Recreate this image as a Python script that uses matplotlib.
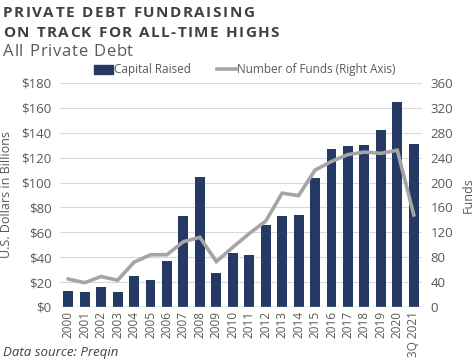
import matplotlib
matplotlib.use("Agg")
import matplotlib.pyplot as plt
from matplotlib.patches import Patch
from matplotlib.lines import Line2D
from matplotlib.font_manager import FontProperties

years = ["2000", "2001", "2002", "2003", "2004", "2005", "2006", "2007", "2008", "2009",
         "2010", "2011", "2012", "2013", "2014", "2015", "2016", "2017", "2018", "2019",
         "2020", "3Q 2021"]
capital_raised = [13, 12, 16, 12, 25, 22, 37, 73, 104.5, 27, 43, 41.5, 66, 73, 74, 104,
                  127, 129, 130.5, 142, 165, 131]
num_funds = [45, 39, 49, 43, 72, 84, 84, 105, 112, 73, 96, 118, 138, 183, 179, 220,
             234, 245, 249, 247, 252, 148]

NAVY = "#243a64"
GRAY_LINE = "#a5a5a5"
TXT = "#595959"
TITLE = "#404040"
FONT = "Open Sans"

plt.rcParams["font.family"] = [FONT, "DejaVu Sans"]

fig = plt.figure(figsize=(4.75, 3.64), dpi=100)
W, H = 475, 364
ax = fig.add_axes([60 / W, 1 - 307 / H, (422 - 60) / W, (307 - 83) / H])
ax2 = ax.twinx()

x = list(range(len(years)))
ax.bar(x, capital_raised, width=0.6, color=NAVY, zorder=3)
ax2.plot(x, num_funds, color=GRAY_LINE, lw=2.6, zorder=4, solid_joinstyle="miter")

ax.set_ylim(0, 180)
ax.set_yticks(range(0, 181, 20))
ax.set_yticklabels([f"${v}" for v in range(0, 181, 20)])
ax2.set_ylim(0, 360)
ax2.set_yticks(range(0, 361, 40))
ax.set_xlim(-0.5, len(years) - 0.5)
ax.set_xticks(x)
ax.set_xticklabels(years, rotation=90)

ax.grid(axis="y", color="#d9d9d9", lw=0.8, zorder=0)
ax.set_axisbelow(True)
for a in (ax, ax2):
    for s in ("top", "left", "right", "bottom"):
        a.spines[s].set_visible(False)
ax.axhline(0, color="#bfbfbf", lw=1.0, zorder=5)
ax.tick_params(axis="y", length=0, labelsize=9.5, colors=TXT, pad=6)
ax2.tick_params(axis="y", length=0, labelsize=9.5, colors=TXT, pad=6)
ax.tick_params(axis="x", length=0, labelsize=8.5, colors=TXT, pad=3)

ax.set_ylabel("U.S. Dollars in Billions", fontsize=9, color=TXT)
ax2.set_ylabel("Funds", fontsize=9, color=TXT)
ax.yaxis.set_label_coords(-0.13, 0.5)
ax2.yaxis.set_label_coords(1.11, 0.5)

# legend
handles = [Patch(facecolor=NAVY, edgecolor=NAVY),
           Line2D([0], [0], color=GRAY_LINE, lw=2.6)]
leg = fig.legend(handles, ["Capital Raised", "Number of Funds (Right Axis)"],
                 loc="center", bbox_to_anchor=(245 / W, 1 - 70 / H), ncol=2,
                 frameon=False, fontsize=8.5, handlelength=1.6, handleheight=0.8,
                 handletextpad=0.1, columnspacing=2.2, labelcolor=TXT)

# letter-spaced titles
renderer = fig.canvas.get_renderer()


def spaced_text(s, x0, x1, ybase, size, weight, color):
    fp = FontProperties(family=[FONT, "DejaVu Sans"], size=size, weight=weight)
    widths = []
    for ch in s:
        w, h, d = renderer.get_text_width_height_descent(ch if ch != " " else "n", fp, ismath=False)
        if ch == " ":
            w *= 0.5
        widths.append(w)
    total = sum(widths)
    sp = ((x1 - x0) - total) / (len(s) - 1)
    xx = x0
    for ch, w in zip(s, widths):
        fig.text(xx / W, 1 - ybase / H, ch, fontproperties=fp, color=color,
                 ha="left", va="baseline")
        xx += w + sp


spaced_text("PRIVATE DEBT FUNDRAISING", 3, 254, 17, 11, "bold", TITLE)
spaced_text("ON TRACK FOR ALL-TIME HIGHS", 3, 279, 37, 11, "bold", TITLE)
spaced_text("All Private Debt", 3, 133, 56, 12, "normal", TXT)

fig.text(3 / W, 1 - 356 / H, "Data source: Preqin", fontsize=9.5, style="italic",
         color=TITLE, ha="left", va="baseline")

fig.savefig("out.png", dpi=100)
